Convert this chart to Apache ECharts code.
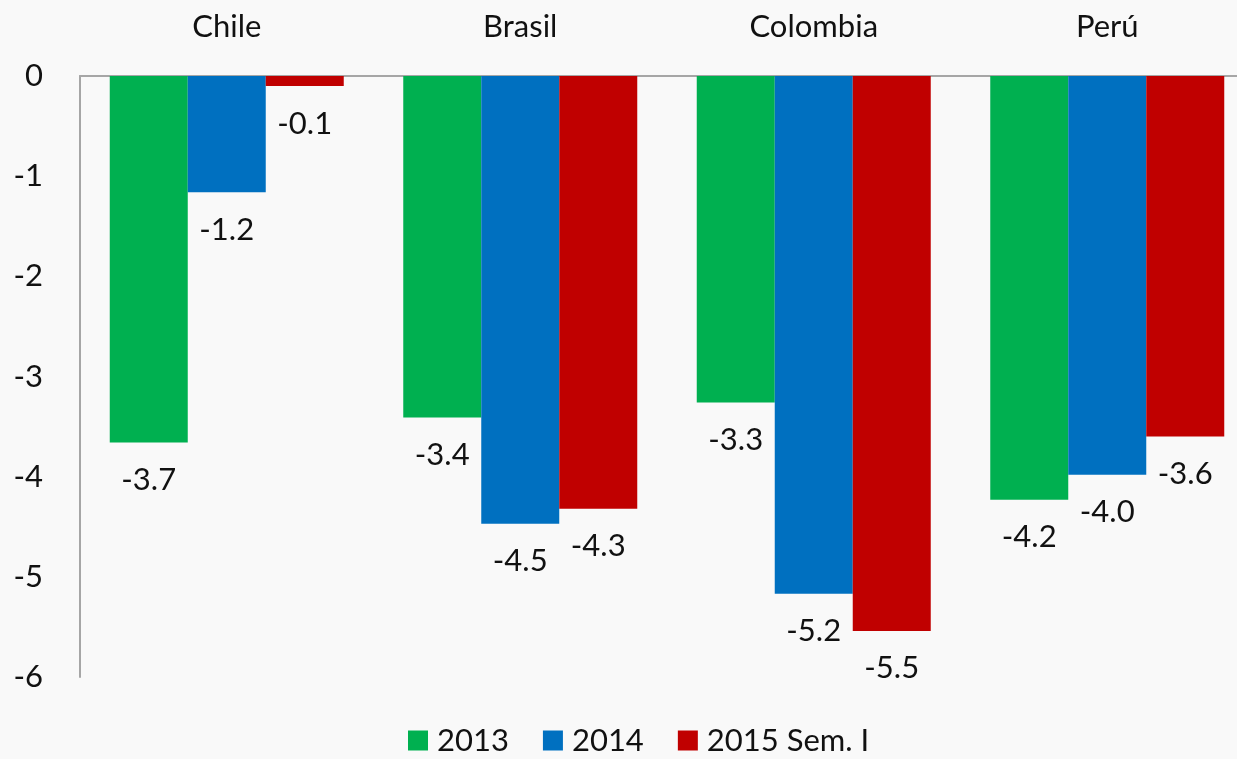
<!DOCTYPE html>
<html>
<head>
<meta charset="utf-8">
<style>
html,body{margin:0;padding:0;background:#f9f9f9;overflow:hidden;}
/* el gráfico original está recortado a la derecha: el lienzo es más ancho que la ventana */
#container{width:1254px;height:759px;}
</style>
<script src="https://cdn.jsdelivr.net/npm/echarts@6/dist/echarts.min.js"></script>
</head>
<body>
<div id="container"></div>
<script>
var paises = ['Chile', 'Brasil', 'Colombia', 'Perú'];
var serie2013 = [-3.66, -3.41, -3.26, -4.23];
var serie2014 = [-1.16, -4.47, -5.17, -3.98];
var serie2015 = [-0.1, -4.32, -5.54, -3.6];
var ticksY = [0, -1, -2, -3, -4, -5, -6];

var fuente = 'Lato';
var dom = document.getElementById("container");
var myChart = echarts.init(dom);

function barra(nombre, datos, color) {
    return {
        name: nombre,
        type: 'bar',
        data: datos,
        barWidth: 78,
        barGap: '0%',
        itemStyle: { color: color },
        label: {
            show: true,
            position: 'bottom',
            distance: 22,
            color: '#111',
            fontFamily: fuente,
            fontSize: 31,
            formatter: function (p) { return p.value.toFixed(1); }
        }
    };
}

var option = {
    backgroundColor: '#f9f9f9',
    animation: false,
    grid: { left: 80, right: 0, top: 76, bottom: 82 },
    legend: {
        bottom: -2,
        left: 403,
        itemWidth: 20,
        itemHeight: 20,
        itemGap: 34,
        icon: 'rect',
        textStyle: { fontFamily: fuente, fontSize: 31, color: '#111', padding: [0, 0, 0, 4] },
        data: ['2013', '2014', '2015 Sem. I']
    },
    xAxis: {
        type: 'category',
        position: 'top',
        data: paises,
        axisLine: { lineStyle: { color: '#a6a6a6', width: 2 } },
        axisTick: { show: false },
        axisLabel: { fontFamily: fuente, fontSize: 31, color: '#111', margin: 34 }
    },
    yAxis: {
        type: 'value',
        min: -6,
        max: 0,
        interval: 1,
        axisLine: { show: true, lineStyle: { color: '#a6a6a6', width: 2 } },
        axisTick: { show: false },
        splitLine: { show: false },
        axisLabel: {
            fontFamily: fuente, fontSize: 31, color: '#111', margin: 37,
            formatter: function (v) { return ticksY.indexOf(v) >= 0 ? String(v) : ''; }
        }
    },
    series: [
        barra('2013', serie2013, '#00b050'),
        barra('2014', serie2014, '#0070c0'),
        barra('2015 Sem. I', serie2015, '#c00000')
    ]
};

if (option && typeof option === "object") {
    myChart.setOption(option, true);
}
</script>
</body>
</html>
